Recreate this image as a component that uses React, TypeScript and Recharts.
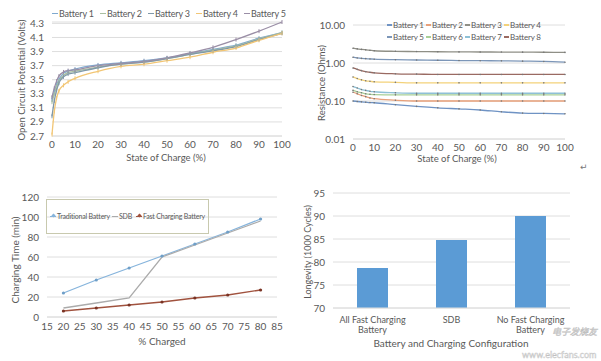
import { LineChart, Line, XAxis, YAxis, CartesianGrid, BarChart, Bar } from 'recharts';

const FONT = 'Lato, "Open Sans", sans-serif';
const TXT = '#595959';
const GRID = '#dedede';

// ---- chart 1: open circuit potential ----
const socPoints = [0, 1, 2, 3, 5, 7, 10, 20, 30, 40, 50, 60, 70, 80, 90, 100];
const ocpBattery1 = [3.22, 3.33, 3.43, 3.5, 3.59, 3.62, 3.65, 3.71, 3.74, 3.77, 3.81, 3.87, 3.93, 3.99, 4.09, 4.17];
const ocpBattery2 = [3.18, 3.3, 3.4, 3.48, 3.56, 3.6, 3.62, 3.68, 3.72, 3.75, 3.8, 3.86, 3.92, 3.98, 4.08, 4.17];
const ocpBattery3 = [2.98, 3.2, 3.35, 3.45, 3.54, 3.58, 3.6, 3.67, 3.72, 3.75, 3.8, 3.86, 3.91, 3.97, 4.07, 4.16];
const ocpBattery4 = [2.72, 3.05, 3.24, 3.34, 3.42, 3.47, 3.52, 3.62, 3.69, 3.72, 3.77, 3.82, 3.89, 3.95, 4.06, 4.16];
const ocpBattery5 = [3.25, 3.38, 3.48, 3.55, 3.61, 3.63, 3.64, 3.7, 3.73, 3.76, 3.81, 3.88, 3.96, 4.07, 4.19, 4.32];
const ocpNames = ['Battery 1', 'Battery 2', 'Battery 3', 'Battery 4', 'Battery 5'];
const ocpColors = ['#7fa9cf', '#a9bfa0', '#7f98a8', '#f2c675', '#9a8ea6'];
const ocpSeries = [ocpBattery1, ocpBattery2, ocpBattery3, ocpBattery4, ocpBattery5];
const ocpTicksY = [2.7, 2.9, 3.1, 3.3, 3.5, 3.7, 3.9, 4.1, 4.3];
const socTicks = [0, 10, 20, 30, 40, 50, 60, 70, 80, 90, 100];

const ocpData = socPoints.map((s, i) => {
  const row: any = { soc: s };
  ocpSeries.forEach((arr, k) => (row['b' + k] = arr[i]));
  return row;
});

// ---- chart 2: resistance (log) ----
const resPoints = [0, 2, 4, 6, 8, 10, 20, 30, 40, 50, 60, 70, 80, 90, 100];
const resBattery1 = [0.1, 0.097, 0.095, 0.093, 0.091, 0.09, 0.08, 0.072, 0.066, 0.062, 0.058, 0.052, 0.048, 0.047, 0.046];
const resBattery2 = [0.17, 0.155, 0.14, 0.13, 0.12, 0.115, 0.105, 0.1, 0.1, 0.1, 0.1, 0.1, 0.1, 0.1, 0.1];
const resBattery3 = [2.45, 2.35, 2.28, 2.22, 2.16, 2.1, 2.03, 2.0, 1.98, 1.96, 1.95, 1.94, 1.93, 1.92, 1.9];
const resBattery4 = [0.43, 0.39, 0.36, 0.34, 0.33, 0.32, 0.31, 0.3, 0.3, 0.3, 0.3, 0.3, 0.3, 0.3, 0.3];
const resBattery5 = [1.42, 1.36, 1.32, 1.3, 1.28, 1.26, 1.22, 1.2, 1.18, 1.16, 1.15, 1.14, 1.12, 1.1, 1.05];
const resBattery6 = [0.19, 0.175, 0.165, 0.155, 0.15, 0.148, 0.145, 0.145, 0.145, 0.145, 0.145, 0.145, 0.145, 0.145, 0.145];
const resBattery7 = [0.24, 0.22, 0.2, 0.19, 0.18, 0.175, 0.165, 0.16, 0.16, 0.16, 0.16, 0.16, 0.16, 0.16, 0.16];
const resBattery8 = [0.74, 0.68, 0.63, 0.59, 0.57, 0.55, 0.52, 0.51, 0.5, 0.5, 0.5, 0.5, 0.5, 0.5, 0.5];
const resNames = ['Battery 1', 'Battery 2', 'Battery 3', 'Battery 4', 'Battery 5', 'Battery 6', 'Battery 7', 'Battery 8'];
const resColors = ['#6f93c4', '#e8a07a', '#8f8f86', '#f3d27a', '#7c96b8', '#a8cf98', '#8ec0d6', '#9a6a62'];
const resSeries = [resBattery1, resBattery2, resBattery3, resBattery4, resBattery5, resBattery6, resBattery7, resBattery8];
const resTicksY = [0.01, 0.1, 1, 10];

const resData = resPoints.map((s, i) => {
  const row: any = { soc: s };
  resSeries.forEach((arr, k) => (row['r' + k] = arr[i]));
  return row;
});

// ---- chart 3: charging time ----
const chargedPct = [20, 30, 40, 50, 60, 70, 80];
const timeTraditional = [24, 37, 49, 61, 73, 85, 98];
const timeSDB = [9, 14, 19, 60, 72, 84, 96];
const timeFast = [6, 9, 12, 15, 19, 22, 27];
const timeNames = ['Traditional Battery', 'SDB', 'Fast Charging Battery'];
const timeColors = ['#86b4dc', '#ababab', '#a0523e'];
const chargedTicks = [15, 20, 25, 30, 35, 40, 45, 50, 55, 60, 65, 70, 75, 80, 85];
const timeTicksY = [0, 20, 40, 60, 80, 100, 120];

const timeData = chargedPct.map((p, i) => ({
  pct: p,
  trad: timeTraditional[i],
  sdb: timeSDB[i],
  fast: timeFast[i],
}));

// ---- chart 4: longevity ----
const configs = ['All Fast Charging Battery', 'SDB', 'No Fast Charging Battery'];
const longevity = [78.7, 84.8, 90.0];
const longevityTicks = [70, 75, 80, 85, 90, 95];
const longevityData = configs.map((c, i) => ({ name: c, value: longevity[i] }));

const tickStyle = { fill: TXT, fontSize: 10, fontFamily: FONT };

const VTick = (props: any) => {
  const { cx, cy, stroke } = props;
  if (cx == null || cy == null) return <g />;
  return <line x1={cx} x2={cx} y1={cy - 2} y2={cy + 2} stroke={stroke} strokeWidth={1} />;
};

const CatTick = (props: any) => {
  const { x, y, payload } = props;
  const words = String(payload.value).split(' ');
  const lines = words.length > 2 ? [words.slice(0, -1).join(' '), words[words.length - 1]] : [payload.value];
  return (
    <text x={x} y={y + 7} textAnchor="middle" fill={TXT} fontSize={9} fontFamily={FONT}>
      {lines.map((l: string, i: number) => (
        <tspan key={i} x={x} dy={i === 0 ? 0 : 10}>
          {l}
        </tspan>
      ))}
    </text>
  );
};

const Title = ({ text, x, y, rotate, size = 10 }: any) => (
  <div
    style={{
      position: 'absolute',
      left: x,
      top: y,
      transform: `translate(-50%, -50%)${rotate ? ' rotate(-90deg)' : ''}`,
      whiteSpace: 'nowrap',
      fontSize: size,
      lineHeight: 1,
      color: TXT,
      fontFamily: FONT,
    }}
  >
    {text}
  </div>
);

const LegendItem = ({ name, color, x, y, size = 9.5, marker, icon = 7 }: any) => (
  <div
    style={{
      position: 'absolute',
      left: x,
      top: y,
      display: 'flex',
      alignItems: 'center',
      fontSize: size,
      letterSpacing: -0.2,
      color: TXT,
      fontFamily: FONT,
      whiteSpace: 'nowrap',
      lineHeight: 1,
    }}
  >
    <span style={{ position: 'relative', width: icon, height: 1.5, background: color, marginRight: 1 }}>
      {marker && (
        <span
          style={{
            position: 'absolute',
            left: icon / 2 - 1.5,
            top: -1.5,
            width: 3,
            height: 3,
            background: color,
            transform: 'rotate(45deg)',
          }}
        />
      )}
    </span>
    {name}
  </div>
);

export default function App() {
  return (
    <div style={{ position: 'absolute', left: 0, top: 0, width: 601, height: 361, background: '#fff', overflow: 'hidden' }}>
      {/* chart 1 */}
      <div style={{ position: 'absolute', left: 0, top: 0 }}>
        <LineChart width={300} height={180} data={ocpData} margin={{ top: 22, right: 18, bottom: 30, left: 14 }}>
          <CartesianGrid vertical={false} stroke={GRID} />
          <XAxis
            dataKey="soc"
            type="number"
            domain={[0, 100]}
            ticks={socTicks}
            interval={0}
            height={14}
            tick={tickStyle}
            tickLine={false}
            axisLine={{ stroke: GRID }}
            tickSize={4}
            tickMargin={1}
          />
          <YAxis
            type="number"
            domain={[2.7, 4.3]}
            ticks={ocpTicksY}
            interval={0}
            width={38}
            tick={tickStyle}
            tickLine={false}
            axisLine={false}
            tickFormatter={(v: number) => v.toFixed(1)}
          />
          {ocpNames.map((n, k) => (
            <Line
              key={n}
              dataKey={'b' + k}
              name={n}
              stroke={ocpColors[k]}
              strokeWidth={1.3}
              dot={<VTick />}
              isAnimationActive={false}
              type="monotone"
            />
          ))}
        </LineChart>
        {ocpNames.map((n, k) => (
          <LegendItem key={n} name={n} color={ocpColors[k]} x={52 + k * 48} y={9} size={9} icon={6} />
        ))}
        <Title text="Open Circuit Potential (Volts)" x={22} y={80} rotate size={9.5} />
        <Title text="State of Charge (%)" x={166} y={158} size={9.5} />
      </div>

      {/* chart 2 */}
      <div style={{ position: 'absolute', left: 300, top: 0 }}>
        <LineChart width={301} height={180} data={resData} margin={{ top: 25, right: 36, bottom: 27, left: 15 }}>
          <CartesianGrid vertical={false} stroke={GRID} />
          <XAxis
            dataKey="soc"
            type="number"
            domain={[0, 100]}
            ticks={socTicks}
            interval={0}
            height={14}
            tick={tickStyle}
            tickLine={false}
            axisLine={{ stroke: GRID }}
            tickSize={4}
            tickMargin={1}
          />
          <YAxis
            scale="log"
            type="number"
            domain={[0.01, 10]}
            ticks={resTicksY}
            interval={0}
            allowDataOverflow
            width={38}
            tick={tickStyle}
            tickLine={false}
            axisLine={false}
            tickFormatter={(v: number) => v.toFixed(2)}
          />
          {resNames.map((n, k) => (
            <Line
              key={n}
              dataKey={'r' + k}
              name={n}
              stroke={resColors[k]}
              strokeWidth={1.3}
              dot={{ r: 0.8, fill: '#777', stroke: 'none' }}
              isAnimationActive={false}
              type="monotone"
            />
          ))}
        </LineChart>
        {resNames.map((n, k) => (
          <LegendItem
            key={n}
            name={n}
            color={resColors[k]}
            x={87 + (k % 4) * 39}
            y={21 + Math.floor(k / 4) * 12}
            size={8}
            icon={5}
          />
        ))}
        <Title text="Resistance (Ohms)" x={22} y={83} rotate size={9.5} />
        <Title text="State of Charge (%)" x={157} y={159} size={9.5} />
        <div style={{ position: 'absolute', left: 280, top: 162, fontSize: 9, color: '#777', fontFamily: 'DejaVu Sans' }}>↵</div>
      </div>

      {/* chart 3 */}
      <div style={{ position: 'absolute', left: 0, top: 180 }}>
        <LineChart width={300} height={181} data={timeData} margin={{ top: 17, right: 23, bottom: 30, left: 9 }}>
          <CartesianGrid vertical={false} stroke={GRID} />
          <XAxis
            dataKey="pct"
            type="number"
            domain={[15, 85]}
            ticks={chargedTicks}
            interval={0}
            height={14}
            tick={tickStyle}
            tickLine={false}
            axisLine={{ stroke: GRID }}
            tickSize={5}
            tickMargin={1}
          />
          <YAxis
            type="number"
            domain={[0, 120]}
            ticks={timeTicksY}
            interval={0}
            width={38}
            tick={tickStyle}
            tickLine={false}
            axisLine={false}
          />
          <Line
            dataKey="trad"
            name={timeNames[0]}
            stroke={timeColors[0]}
            strokeWidth={1.3}
            dot={{ r: 1.6, fill: '#6f9fc8', stroke: 'none' }}
            isAnimationActive={false}
          />
          <Line
            dataKey="sdb"
            name={timeNames[1]}
            stroke={timeColors[1]}
            strokeWidth={1.3}
            dot={false}
            isAnimationActive={false}
          />
          <Line
            dataKey="fast"
            name={timeNames[2]}
            stroke={timeColors[2]}
            strokeWidth={1.3}
            dot={{ r: 1.6, fill: '#7a3324', stroke: 'none' }}
            isAnimationActive={false}
          />
        </LineChart>
        <div
          style={{
            position: 'absolute',
            left: 46,
            top: 19,
            width: 163,
            height: 35,
            border: '1px solid #c8c9ae',
            boxSizing: 'border-box',
          }}
        />
        {timeNames.map((n, k) => (
          <LegendItem
            key={n}
            name={n}
            color={timeColors[k]}
            x={[50, 112, 136][k]}
            y={33}
            size={7}
            icon={6}
            marker={k !== 1}
          />
        ))}
        <Title text="Charging Time (min)" x={15} y={80} rotate size={10} />
        <Title text="% Charged" x={162} y={161} size={10} />
      </div>

      {/* chart 4 */}
      <div style={{ position: 'absolute', left: 300, top: 180 }}>
        <BarChart width={301} height={181} data={longevityData} margin={{ top: 13, right: 31, bottom: 33, left: 5 }}>
          <CartesianGrid vertical={false} stroke={GRID} />
          <XAxis dataKey="name" height={20} tick={<CatTick />} tickLine={false} axisLine={{ stroke: GRID }} interval={0} />
          <YAxis
            type="number"
            domain={[70, 95]}
            ticks={longevityTicks}
            interval={0}
            width={28}
            tick={tickStyle}
            tickLine={false}
            axisLine={false}
          />
          <Bar dataKey="value" fill="#5b9bd5" barSize={31} isAnimationActive={false} />
        </BarChart>
        <Title text="Longevity (1000 Cycles)" x={7} y={72} rotate size={9} />
        <Title text="Battery and Charging Configuration" x={151} y={163} size={10} />
        <div
          style={{
            position: 'absolute',
            left: 252,
            top: 147,
            fontSize: 9,
            color: '#f2f2f2',
            fontFamily: '"Noto Sans CJK SC"',
            WebkitTextStroke: '0.5px #c0c0c0',
            fontStyle: 'italic',
            lineHeight: 1,
          }}
        >
          电子发烧友
        </div>
        <div
          style={{
            position: 'absolute',
            left: 222,
            top: 170,
            fontSize: 9,
            color: '#f2f2f2',
            fontFamily: 'Lato, sans-serif',
            WebkitTextStroke: '0.4px #c0c0c0',
            lineHeight: 1,
          }}
        >
          www.elecfans.com
        </div>
      </div>
    </div>
  );
}
